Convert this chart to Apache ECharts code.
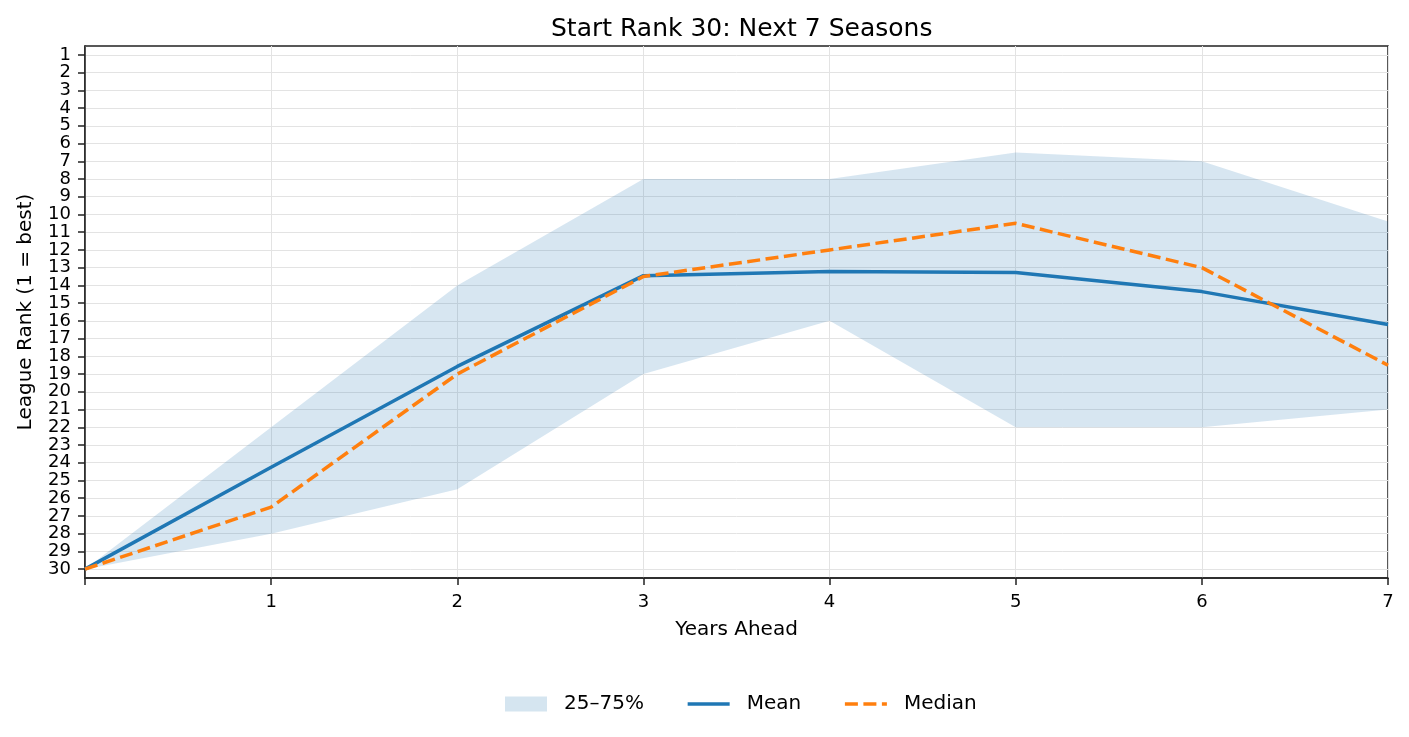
<!DOCTYPE html>
<html>
<head>
<meta charset="utf-8">
<script src="https://cdn.jsdelivr.net/npm/echarts@6/dist/echarts.min.js"></script>
<style>html,body{margin:0;padding:0;background:#fff;}#c{width:1409px;height:737px;}</style>
</head>
<body>
<div id="c"></div>
<script>
const years = [0, 1, 2, 3, 4, 5, 6, 7];
const meanRank = [30, 24.25, 18.57, 13.45, 13.22, 13.27, 14.35, 16.2];
const medianRank = [30, 26.5, 19, 13.5, 12, 10.5, 13, 18.5];
const q25Rank = [30, 22, 14, 8, 8, 6.5, 7, 10.4];   // better (upper) edge
const q75Rank = [30, 28, 25.5, 19, 16, 22, 22, 21];  // worse (lower) edge
const rankTicks = Array.from({length: 30}, (_, i) => i + 1);
const oddTicks = rankTicks.filter(v => v % 2 === 1);
const evenTicks = rankTicks.filter(v => v % 2 === 0);

const FONT = 'DejaVu Sans';
const bandColor = 'rgba(31,119,180,0.18)';

const labelStyle = {fontFamily: FONT, fontSize: 18, color: '#000', margin: 14, hideOverlap: false};

const chart = echarts.init(document.getElementById('c'));
chart.setOption({
  backgroundColor: '#fff',
  animation: false,
  textStyle: {fontFamily: FONT},
  title: {
    text: 'Start Rank 30: Next 7 Seasons',
    left: 546, top: 12,
    textStyle: {fontFamily: FONT, fontSize: 25, fontWeight: 'normal', color: '#000'}
  },
  grid: {left: 85, right: 21, top: 46, bottom: 159, show: true, borderColor: '#222', borderWidth: 1.5, backgroundColor: 'transparent'},
  legend: {
    bottom: 18, left: 500,
    itemWidth: 42, itemHeight: 15, itemGap: 42,
    textStyle: {fontFamily: FONT, fontSize: 20, color: '#000', padding: [0, 0, 0, 12]},
    data: [
      {name: '25–75%', icon: 'rect', itemStyle: {color: '#d5e5f0'}},
      {name: 'Mean', itemStyle: {opacity: 0}, lineStyle: {width: 3.5}},
      {name: 'Median', itemStyle: {opacity: 0}, lineStyle: {width: 3.5}}
    ]
  },
  xAxis: {
    type: 'value', min: 0, max: 7, interval: 1,
    name: 'Years Ahead', nameLocation: 'middle', nameGap: 42,
    nameTextStyle: {fontFamily: FONT, fontSize: 20, color: '#000'},
    axisLine: {show: true, lineStyle: {color: '#222', width: 1.5}},
    axisTick: {show: true, inside: false, length: 7, lineStyle: {color: '#222', width: 1.5}},
    axisLabel: {fontFamily: FONT, fontSize: 18, color: '#000', margin: 15,
      formatter: v => v === 0 ? '' : String(v)},
    splitLine: {show: true, lineStyle: {color: '#e3e3e3', width: 1}}
  },
  yAxis: [
    {
      type: 'value', min: 0.5, max: 30.5, inverse: true, position: 'left',
      name: 'League Rank (1 = best)', nameLocation: 'middle', nameGap: 49, nameRotate: 90,
      nameTextStyle: {fontFamily: FONT, fontSize: 20, color: '#000'},
      axisLine: {show: true, lineStyle: {color: '#222', width: 1.5}},
      axisTick: {show: true, inside: false, length: 7, customValues: rankTicks, lineStyle: {color: '#222', width: 1.5}},
      axisLabel: Object.assign({customValues: oddTicks}, labelStyle),
      splitLine: {show: true, lineStyle: {color: '#e3e3e3', width: 1}}
    },
    {
      type: 'value', min: 0.5, max: 30.5, inverse: true, position: 'left', offset: 0,
      axisLine: {show: false},
      axisTick: {show: false, customValues: evenTicks},
      axisLabel: Object.assign({customValues: evenTicks}, labelStyle),
      splitLine: {show: false}
    }
  ],
  series: [
    {
      name: '25–75%', type: 'custom', silent: true, color: '#d5e5f0',
      data: years.map((x, i) => [x, q25Rank[i], q75Rank[i]]),
      encode: {x: 0, y: [1, 2]},
      renderItem: function (params, api) {
        if (params.dataIndex !== 0) return null;
        const pts = [];
        for (let i = 0; i < years.length; i++) pts.push(api.coord([years[i], q25Rank[i]]));
        for (let i = years.length - 1; i >= 0; i--) pts.push(api.coord([years[i], q75Rank[i]]));
        return {type: 'polygon', shape: {points: pts}, style: {fill: bandColor}};
      },
      z: 1
    },
    {
      name: 'Mean', type: 'line',
      data: years.map((x, i) => [x, meanRank[i]]),
      symbol: 'none', color: '#1f77b4',
      lineStyle: {color: '#1f77b4', width: 3.5}, z: 3
    },
    {
      name: 'Median', type: 'line',
      data: years.map((x, i) => [x, medianRank[i]]),
      symbol: 'none', color: '#ff7f0e',
      lineStyle: {color: '#ff7f0e', width: 3.5, type: [13, 5.5]}, z: 4
    }
  ]
});
</script>
</body>
</html>
